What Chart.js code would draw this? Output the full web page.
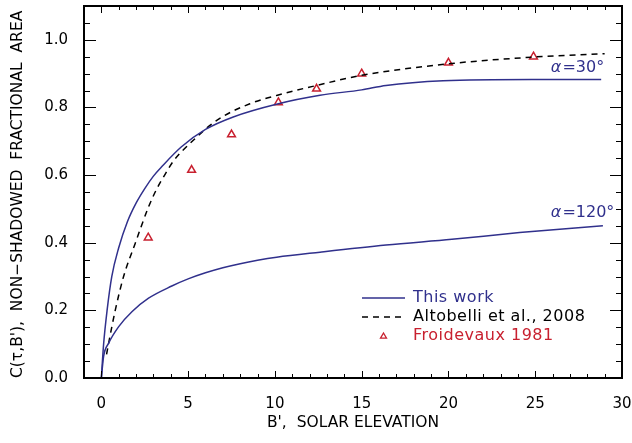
<!DOCTYPE html>
<html>
<head>
    <title>Non-shadowed fractional area</title>
    <script src="https://cdn.jsdelivr.net/npm/chart.js"></script>
    <style>
        body { margin: 0; background: #fff; }
        canvas { display: block; }
    </style>
</head>
<body>
    <canvas id="areaChart" width="632" height="443"></canvas>

    <script>
        // This work, alpha = 30 deg
        const x30 = [0, 0.13, 0.33, 0.6, 1.0, 1.5, 2.0, 2.5, 3.0, 3.5, 4.6, 6.0, 7.6, 10.2, 12.6, 15.0, 16.4, 19.7, 24.8, 28.8];
        const y30 = [0, 0.10, 0.20, 0.30, 0.385, 0.462, 0.517, 0.56, 0.597, 0.626, 0.683, 0.735, 0.772, 0.811, 0.836, 0.852, 0.865, 0.879, 0.883, 0.883];

        // This work, alpha = 120 deg
        const x120 = [0, 0.13, 0.42, 1.0, 1.76, 2.72, 4.06, 5.0, 6.0, 7.0, 8.0, 9.0, 10.1, 12.6, 16.4, 20.2, 24.1, 28.9];
        const y120 = [0, 0.064, 0.103, 0.152, 0.196, 0.236, 0.272, 0.293, 0.311, 0.326, 0.338, 0.348, 0.357, 0.372, 0.393, 0.41, 0.43, 0.45];

        // Altobelli et al., 2008
        const xAlt = [0.3, 0.42, 0.8, 1.28, 1.95, 2.72, 3.2, 3.68, 4.16, 5.3, 6.65, 8.56, 10.5, 12.4, 15.0, 20.0, 24.9, 29.0];
        const yAlt = [0.07, 0.103, 0.20, 0.30, 0.398, 0.506, 0.56, 0.603, 0.642, 0.703, 0.762, 0.811, 0.841, 0.865, 0.895, 0.929, 0.949, 0.959];

        // Froidevaux 1981
        const xFroi = [2.7, 5.2, 7.5, 10.2, 12.4, 15.0, 20.0, 24.9];
        const yFroi = [0.415, 0.615, 0.72, 0.815, 0.855, 0.90, 0.932, 0.95];

        const xTicks = [0, 5, 10, 15, 20, 25, 30];
        const yTicks = [0, 0.2, 0.4, 0.6, 0.8, 1.0];

        const BLUE = '#30308c';
        const RED = '#c8202f';
        const FONT = '"DejaVu Sans", sans-serif';

        const toPoints = (xs, ys) => xs.map((v, i) => ({ x: v, y: ys[i] }));
        const noPad = s => { s.paddingTop = 0; s.paddingBottom = 0; s.paddingLeft = 0; s.paddingRight = 0; };

        // frame with inward ticks on all four sides (IDL style)
        const frameTicks = {
            id: 'frameTicks',
            afterDraw(chart) {
                const { ctx, chartArea: a, scales: { x, y } } = chart;
                ctx.save();
                ctx.strokeStyle = '#000';
                ctx.lineWidth = 1;
                ctx.beginPath();
                for (let v = -1; v <= 30; v++) {
                    const px = Math.round(x.getPixelForValue(v)) + 0.5;
                    const len = v % 5 === 0 ? 7 : 4;
                    ctx.moveTo(px, a.bottom); ctx.lineTo(px, a.bottom - len);
                    ctx.moveTo(px, a.top); ctx.lineTo(px, a.top + len);
                }
                for (let k = 0; k <= 22; k++) {
                    const v = k * 0.05;
                    const py = Math.round(y.getPixelForValue(v)) + 0.5;
                    const len = k % 4 === 0 ? 12 : 6;
                    ctx.moveTo(a.left, py); ctx.lineTo(a.left + len, py);
                    ctx.moveTo(a.right, py); ctx.lineTo(a.right - len, py);
                }
                ctx.stroke();
                ctx.lineWidth = 2;
                ctx.strokeRect(a.left, a.top, a.right - a.left, a.bottom - a.top);
                ctx.restore();
            }
        };

        // curve labels and in-plot legend
        const labels = {
            id: 'labels',
            afterDraw(chart) {
                const { ctx, chartArea: a, scales: { x, y } } = chart;
                ctx.save();
                ctx.textBaseline = 'middle';
                ctx.fillStyle = BLUE;
                [['30°', 0.916], ['120°', 0.487]].forEach(([txt, yv]) => {
                    const px = x.getPixelForValue(25.9);
                    const py = y.getPixelForValue(yv);
                    ctx.font = 'italic 16px ' + FONT;
                    ctx.fillText('α', px, py);
                    const w = ctx.measureText('α').width;
                    ctx.font = '16px ' + FONT;
                    ctx.fillText('=' + txt, px + w + 1, py);
                });

                const sx0 = a.left + 278, sx1 = a.left + 321, tx = a.left + 329;
                const rows = [a.top + 292, a.top + 311, a.top + 330];
                ctx.font = '16px ' + FONT;
                ctx.letterSpacing = '0.5px';
                // This work
                ctx.strokeStyle = BLUE; ctx.lineWidth = 1.5;
                ctx.beginPath(); ctx.moveTo(sx0, rows[0]); ctx.lineTo(sx1, rows[0]); ctx.stroke();
                ctx.fillStyle = BLUE; ctx.fillText('This work', tx, rows[0]);
                // Altobelli
                ctx.strokeStyle = '#000'; ctx.setLineDash([6, 5]);
                ctx.beginPath(); ctx.moveTo(sx0, rows[1]); ctx.lineTo(sx1, rows[1]); ctx.stroke();
                ctx.setLineDash([]);
                ctx.fillStyle = '#000'; ctx.fillText('Altobelli et al., 2008', tx, rows[1]);
                // Froidevaux
                const cx = (sx0 + sx1) / 2, r = 3;
                ctx.strokeStyle = RED; ctx.lineWidth = 1.3;
                ctx.beginPath();
                ctx.moveTo(cx, rows[2] - r);
                ctx.lineTo(cx + r, rows[2] + r * 0.7);
                ctx.lineTo(cx - r, rows[2] + r * 0.7);
                ctx.closePath(); ctx.stroke();
                ctx.fillStyle = RED; ctx.fillText('Froidevaux 1981', tx, rows[2]);
                ctx.restore();
            }
        };

        const ctx = document.getElementById('areaChart').getContext('2d');
        new Chart(ctx, {
            type: 'scatter',
            data: {
                datasets: [{
                    label: 'This work (30)',
                    data: toPoints(x30, y30),
                    showLine: true,
                    borderColor: BLUE,
                    borderWidth: 1.5,
                    pointRadius: 0,
                    cubicInterpolationMode: 'monotone'
                }, {
                    label: 'This work (120)',
                    data: toPoints(x120, y120),
                    showLine: true,
                    borderColor: BLUE,
                    borderWidth: 1.5,
                    pointRadius: 0,
                    cubicInterpolationMode: 'monotone'
                }, {
                    label: 'Altobelli et al., 2008',
                    data: toPoints(xAlt, yAlt),
                    showLine: true,
                    borderColor: '#000',
                    borderWidth: 1.5,
                    borderDash: [6, 5],
                    pointRadius: 0,
                    cubicInterpolationMode: 'monotone'
                }, {
                    label: 'Froidevaux 1981',
                    data: toPoints(xFroi, yFroi),
                    showLine: false,
                    pointStyle: 'triangle',
                    pointRadius: 4.5,
                    pointBorderWidth: 1.5,
                    borderColor: RED,
                    backgroundColor: 'rgba(0,0,0,0)'
                }]
            },
            options: {
                responsive: false,
                animation: false,
                layout: { padding: { top: 6, right: 10, left: 0, bottom: 0 } },
                plugins: {
                    legend: { display: false },
                    tooltip: { enabled: false }
                },
                scales: {
                    x: {
                        type: 'linear',
                        min: -1,
                        max: 30,
                        afterBuildTicks: s => { s.ticks = xTicks.map(v => ({ value: v })); },
                        afterFit: s => { s.height = 65; noPad(s); },
                        grid: { display: false, drawTicks: false },
                        border: { display: false },
                        ticks: { color: '#000', padding: 17, maxRotation: 0, font: { family: FONT, size: 15 } },
                        title: {
                            display: true,
                            text: "B',  SOLAR ELEVATION",
                            color: '#000',
                            font: { family: FONT, size: 15.5 },
                            padding: { top: 0, bottom: 11 }
                        }
                    },
                    y: {
                        min: 0,
                        max: 1.1,
                        afterBuildTicks: s => { s.ticks = yTicks.map(v => ({ value: v })); },
                        afterFit: s => { s.width = 84; noPad(s); },
                        grid: { display: false, drawTicks: false },
                        border: { display: false },
                        ticks: {
                            color: '#000', padding: 16, font: { family: FONT, size: 15 },
                            callback: v => v.toFixed(1)
                        },
                        title: {
                            display: true,
                            align: 'start',
                            text: 'C(τ,B\'),  NON−SHADOWED  FRACTIONAL  AREA',
                            color: '#000',
                            font: { family: FONT, size: 15.5 },
                            padding: { top: 9, bottom: 0 }
                        }
                    }
                }
            },
            plugins: [frameTicks, labels]
        });
    </script>
</body>
</html>
